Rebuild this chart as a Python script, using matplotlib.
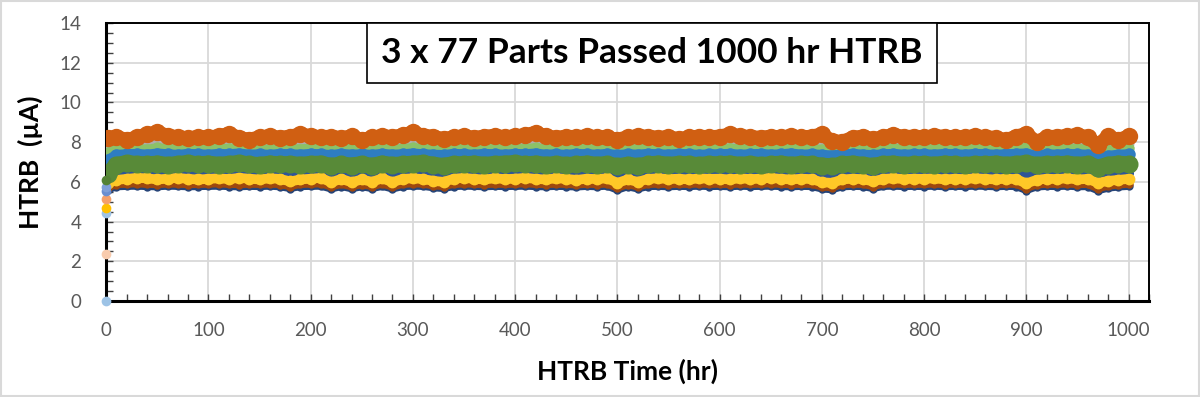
import matplotlib
matplotlib.use("Agg")
import matplotlib.pyplot as plt
from matplotlib.patches import Rectangle
from matplotlib.ticker import MultipleLocator

plt.rcParams['font.family'] = ['Lato', 'DejaVu Sans']

# sample hours for the long-run bands (hr)
hours = [2] + list(range(10, 1001, 10))

# leakage current per band (uA), one row per 100 hr
orange = [8.20, 8.28, 8.10, 8.25, 8.40, 8.50, 8.32, 8.25, 8.20, 8.26,
          8.24, 8.30, 8.42, 8.22, 8.12, 8.25, 8.30, 8.22, 8.28, 8.40,
          8.30, 8.25, 8.28, 8.20, 8.30, 8.10, 8.24, 8.30, 8.26, 8.35,
          8.50, 8.32, 8.28, 8.15, 8.25, 8.30, 8.22, 8.28, 8.32, 8.25,
          8.30, 8.35, 8.48, 8.30, 8.22, 8.28, 8.25, 8.30, 8.26, 8.24,
          8.12, 8.25, 8.30, 8.28, 8.22, 8.26, 8.15, 8.24, 8.28, 8.25,
          8.28, 8.40, 8.30, 8.26, 8.22, 8.28, 8.25, 8.30, 8.24, 8.28,
          8.40, 8.05, 8.02, 8.22, 8.28, 8.15, 8.25, 8.38, 8.26, 8.28,
          8.25, 8.30, 8.28, 8.24, 8.26, 8.30, 8.25, 8.22, 8.10, 8.28,
          8.42, 8.00, 8.25, 8.28, 8.30, 8.36, 8.25, 7.85, 8.30, 8.10,
          8.30]
gray = [7.85, 7.92, 7.90, 7.94, 7.92, 7.95, 7.90, 7.92, 7.94, 7.90,
        7.92, 7.94, 7.90, 7.92, 7.95, 7.90, 7.92, 7.94, 7.92, 7.90,
        7.94, 7.92, 7.90, 7.94, 7.92, 7.90, 7.92, 7.95, 7.92, 7.90,
        7.94, 7.92, 7.90, 7.92, 7.94, 7.92, 7.90, 7.94, 7.92, 7.95,
        7.92, 7.90, 7.94, 7.92, 7.90, 7.92, 7.94, 7.92, 7.90, 7.94,
        7.90, 7.92, 7.94, 7.92, 7.90, 7.94, 7.92, 7.90, 7.92, 7.94,
        7.92, 7.94, 7.90, 7.92, 7.94, 7.92, 7.90, 7.92, 7.94, 7.92,
        7.90, 7.88, 7.92, 7.94, 7.92, 7.90, 7.92, 7.94, 7.92, 7.90,
        7.92, 7.94, 7.92, 7.90, 7.92, 7.94, 7.92, 7.90, 7.92, 7.94,
        7.94, 7.88, 7.92, 7.90, 7.94, 7.92, 7.90, 7.80, 7.88, 7.92,
        7.92]
light_green = [7.50, 7.68, 7.70, 7.72, 7.66, 7.74, 7.70, 7.68, 7.72, 7.70,
               7.68, 7.72, 7.70, 7.74, 7.68, 7.70, 7.66, 7.72, 7.70, 7.68,
               7.72, 7.70, 7.65, 7.72, 7.68, 7.70, 7.66, 7.72, 7.68, 7.70,
               7.74, 7.70, 7.68, 7.66, 7.72, 7.70, 7.68, 7.72, 7.70, 7.68,
               7.72, 7.70, 7.74, 7.68, 7.70, 7.66, 7.72, 7.70, 7.68, 7.72,
               7.66, 7.70, 7.68, 7.72, 7.70, 7.68, 7.72, 7.70, 7.66, 7.70,
               7.70, 7.72, 7.68, 7.70, 7.72, 7.68, 7.70, 7.74, 7.68, 7.70,
               7.66, 7.64, 7.70, 7.72, 7.68, 7.66, 7.70, 7.72, 7.68, 7.70,
               7.70, 7.68, 7.72, 7.70, 7.68, 7.72, 7.70, 7.68, 7.70, 7.72,
               7.74, 7.62, 7.70, 7.68, 7.72, 7.70, 7.68, 7.55, 7.62, 7.68,
               7.70]
blue = [7.10, 7.35, 7.38, 7.40, 7.36, 7.42, 7.38, 7.35, 7.40, 7.38,
        7.36, 7.40, 7.38, 7.42, 7.36, 7.38, 7.35, 7.40, 7.38, 7.36,
        7.40, 7.38, 7.34, 7.40, 7.36, 7.38, 7.35, 7.40, 7.36, 7.38,
        7.42, 7.38, 7.36, 7.34, 7.40, 7.38, 7.36, 7.40, 7.38, 7.36,
        7.40, 7.38, 7.42, 7.36, 7.38, 7.35, 7.40, 7.38, 7.36, 7.40,
        7.34, 7.38, 7.36, 7.40, 7.38, 7.36, 7.40, 7.38, 7.35, 7.38,
        7.38, 7.40, 7.36, 7.38, 7.40, 7.36, 7.38, 7.42, 7.36, 7.38,
        7.35, 7.32, 7.38, 7.40, 7.36, 7.34, 7.38, 7.40, 7.36, 7.38,
        7.38, 7.36, 7.40, 7.38, 7.36, 7.40, 7.38, 7.36, 7.38, 7.40,
        7.42, 7.30, 7.38, 7.36, 7.40, 7.38, 7.36, 7.22, 7.30, 7.36,
        7.38]
green = [6.40, 6.85, 6.95, 6.90, 6.88, 6.92, 6.85, 6.90, 6.95, 6.88,
         6.92, 6.86, 6.90, 6.95, 6.88, 6.85, 6.92, 6.88, 6.90, 6.86,
         6.90, 6.92, 6.80, 6.88, 6.82, 6.90, 6.80, 6.92, 6.85, 6.88,
         6.92, 6.95, 6.86, 6.80, 6.90, 6.88, 6.92, 6.86, 6.90, 6.92,
         6.95, 6.88, 6.92, 6.86, 6.90, 6.85, 6.88, 6.92, 6.86, 6.90,
         6.78, 6.86, 6.80, 6.88, 6.92, 6.86, 6.90, 6.88, 6.85, 6.90,
         6.88, 6.92, 6.86, 6.90, 6.85, 6.88, 6.92, 6.86, 6.90, 6.88,
         6.82, 6.78, 6.88, 6.92, 6.86, 6.80, 6.90, 6.92, 6.86, 6.88,
         6.90, 6.86, 6.92, 6.88, 6.85, 6.90, 6.88, 6.92, 6.86, 6.90,
         6.95, 6.85, 6.90, 6.88, 6.92, 6.86, 6.90, 6.72, 6.86, 6.92,
         6.88]
dark_blue = [6.10, 6.44, 6.46, 6.48, 6.45, 6.44, 6.47, 6.46, 6.44, 6.45,
             6.46, 6.48, 6.45, 6.44, 6.46, 6.45, 6.47, 6.44, 6.36, 6.45,
             6.46, 6.48, 6.34, 6.45, 6.35, 6.44, 6.36, 6.46, 6.35, 6.45,
             6.48, 6.46, 6.40, 6.36, 6.45, 6.47, 6.46, 6.44, 6.46, 6.45,
             6.46, 6.48, 6.45, 6.44, 6.46, 6.45, 6.42, 6.46, 6.44, 6.47,
             6.32, 6.44, 6.36, 6.45, 6.46, 6.44, 6.46, 6.45, 6.47, 6.45,
             6.46, 6.44, 6.47, 6.45, 6.46, 6.48, 6.45, 6.44, 6.46, 6.45,
             6.36, 6.32, 6.44, 6.46, 6.45, 6.38, 6.46, 6.47, 6.45, 6.46,
             6.45, 6.47, 6.44, 6.46, 6.45, 6.47, 6.46, 6.44, 6.46, 6.45,
             6.30, 6.42, 6.46, 6.45, 6.47, 6.44, 6.45, 6.28, 6.38, 6.42,
             6.45]
yellow = [5.95, 6.10, 6.15, 6.20, 6.18, 6.12, 6.16, 6.20, 6.15, 6.12,
          6.15, 6.18, 6.14, 6.20, 6.16, 6.12, 6.18, 6.15, 6.02, 6.12,
          6.16, 6.20, 5.98, 6.15, 5.98, 6.12, 6.00, 6.18, 5.98, 6.15,
          6.18, 6.14, 6.05, 6.00, 6.16, 6.20, 6.15, 6.12, 6.18, 6.14,
          6.16, 6.20, 6.15, 6.12, 6.18, 6.15, 6.10, 6.16, 6.14, 6.18,
          5.95, 6.12, 6.00, 6.15, 6.18, 6.14, 6.16, 6.12, 6.18, 6.15,
          6.16, 6.12, 6.18, 6.14, 6.16, 6.20, 6.15, 6.12, 6.16, 6.14,
          5.98, 5.95, 6.12, 6.16, 6.14, 6.02, 6.15, 6.18, 6.14, 6.16,
          6.15, 6.18, 6.12, 6.16, 6.14, 6.18, 6.15, 6.12, 6.16, 6.14,
          5.92, 6.10, 6.16, 6.14, 6.18, 6.12, 6.15, 5.95, 6.05, 6.10,
          6.15]
brown = [5.70, 5.86, 5.88, 5.90, 5.87, 5.86, 5.89, 5.88, 5.86, 5.87,
         5.88, 5.90, 5.87, 5.86, 5.88, 5.87, 5.89, 5.86, 5.76, 5.87,
         5.88, 5.90, 5.74, 5.87, 5.75, 5.86, 5.76, 5.88, 5.74, 5.87,
         5.90, 5.88, 5.80, 5.76, 5.87, 5.89, 5.88, 5.86, 5.88, 5.87,
         5.88, 5.90, 5.87, 5.86, 5.88, 5.87, 5.84, 5.88, 5.86, 5.89,
         5.68, 5.86, 5.74, 5.87, 5.88, 5.86, 5.88, 5.87, 5.89, 5.87,
         5.88, 5.86, 5.89, 5.87, 5.88, 5.90, 5.87, 5.86, 5.88, 5.87,
         5.74, 5.70, 5.86, 5.88, 5.87, 5.76, 5.88, 5.89, 5.87, 5.88,
         5.87, 5.89, 5.86, 5.88, 5.87, 5.89, 5.88, 5.86, 5.88, 5.87,
         5.66, 5.84, 5.88, 5.87, 5.89, 5.86, 5.87, 5.65, 5.78, 5.84,
         5.88]
navy = [5.60, 5.75, 5.77, 5.78, 5.76, 5.75, 5.78, 5.77, 5.75, 5.76,
        5.77, 5.78, 5.76, 5.75, 5.77, 5.76, 5.78, 5.75, 5.66, 5.76,
        5.77, 5.78, 5.64, 5.76, 5.65, 5.75, 5.66, 5.77, 5.64, 5.76,
        5.78, 5.77, 5.70, 5.66, 5.76, 5.78, 5.77, 5.75, 5.77, 5.76,
        5.77, 5.78, 5.76, 5.75, 5.77, 5.76, 5.74, 5.77, 5.75, 5.78,
        5.58, 5.75, 5.64, 5.76, 5.77, 5.75, 5.77, 5.76, 5.78, 5.76,
        5.77, 5.75, 5.78, 5.76, 5.77, 5.78, 5.76, 5.75, 5.77, 5.76,
        5.64, 5.60, 5.75, 5.77, 5.76, 5.66, 5.77, 5.78, 5.76, 5.77,
        5.76, 5.78, 5.75, 5.77, 5.76, 5.78, 5.77, 5.75, 5.77, 5.76,
        5.56, 5.74, 5.77, 5.76, 5.78, 5.75, 5.76, 5.55, 5.68, 5.74,
        5.77]

# first readings at t = 0 (uA) and their colours
start_values = [0.0, 2.35, 4.45, 4.7, 5.15, 5.55, 5.75, 6.1]
start_colors = ['#9DC3E6', '#F8CBAD', '#9DC3E6', '#FFC000', '#F4A06A',
                '#698ED0', '#7F9FD8', '#548235']

# (values, colour, line width pt, marker size pt) in drawing order
bands = [
    (navy, '#264478', 5.0, 6.0),
    (brown, '#9E480E', 5.0, 6.0),
    (dark_blue, '#2F5597', 5.5, 6.5),
    (yellow, '#FFC827', 7.0, 8.5),
    (gray, '#ADADAD', 6.0, 7.0),
    (light_green, '#8CC168', 6.0, 7.5),
    (blue, '#2E7DC2', 7.5, 9.0),
    (green, '#588A38', 11.5, 13.0),
    (orange, '#D05F12', 10.0, 12.5),
]

fig = plt.figure(figsize=(12, 3.97), dpi=100)
ax = fig.add_axes([0.0885, 0.2418, 0.8690, 0.7002])

for vals, col, lw, ms in bands:
    ax.plot(hours, vals, color=col, lw=lw, marker='o', ms=ms, mew=0,
            solid_capstyle='round', solid_joinstyle='round', zorder=3)

for v, c in zip(start_values, start_colors):
    ax.plot([0], [v], 'o', color=c, ms=7, mew=0, zorder=4, clip_on=False)

ax.set_xlim(0, 1020)
ax.set_ylim(0, 14)
ax.xaxis.set_major_locator(MultipleLocator(100))
ax.xaxis.set_minor_locator(MultipleLocator(20))
ax.yaxis.set_major_locator(MultipleLocator(2))
ax.yaxis.set_minor_locator(MultipleLocator(0.5))
ax.grid(True, which='major', color='#D9D9D9', lw=1.3, zorder=0)
ax.set_axisbelow(True)

for side in ['top', 'right']:
    ax.spines[side].set_linewidth(1.4)
for side in ['left', 'bottom']:
    ax.spines[side].set_linewidth(2.2)
for s in ax.spines.values():
    s.set_color('black')

ax.tick_params(which='both', direction='in', color='#404040', width=1.0)
ax.tick_params(which='major', length=5, labelsize=13.5, labelcolor='#595959')
ax.tick_params(which='minor', length=5)
ax.tick_params(axis='x', pad=15)
ax.tick_params(axis='y', pad=18)

ax.set_xlabel('HTRB Time (hr)', fontsize=19, fontweight='bold', labelpad=14)
ax.set_ylabel('HTRB  (\u00b5A)', fontsize=19, fontweight='bold', labelpad=12)

ax.text(0.5433, 0.8665, '3 x 77 Parts Passed 1000 hr HTRB', transform=fig.transFigure,
        ha='center', va='center', fontsize=25.5, fontweight='bold', color='black',
        bbox=dict(boxstyle='square,pad=0.4', fc='white', ec='black', lw=1.2),
        zorder=10)

fig.patches.append(Rectangle((0.001, 0.002), 0.998, 0.995, transform=fig.transFigure,
                             fill=False, ec='#D9D9D9', lw=1.5))

fig.savefig('out.png', dpi=100)
